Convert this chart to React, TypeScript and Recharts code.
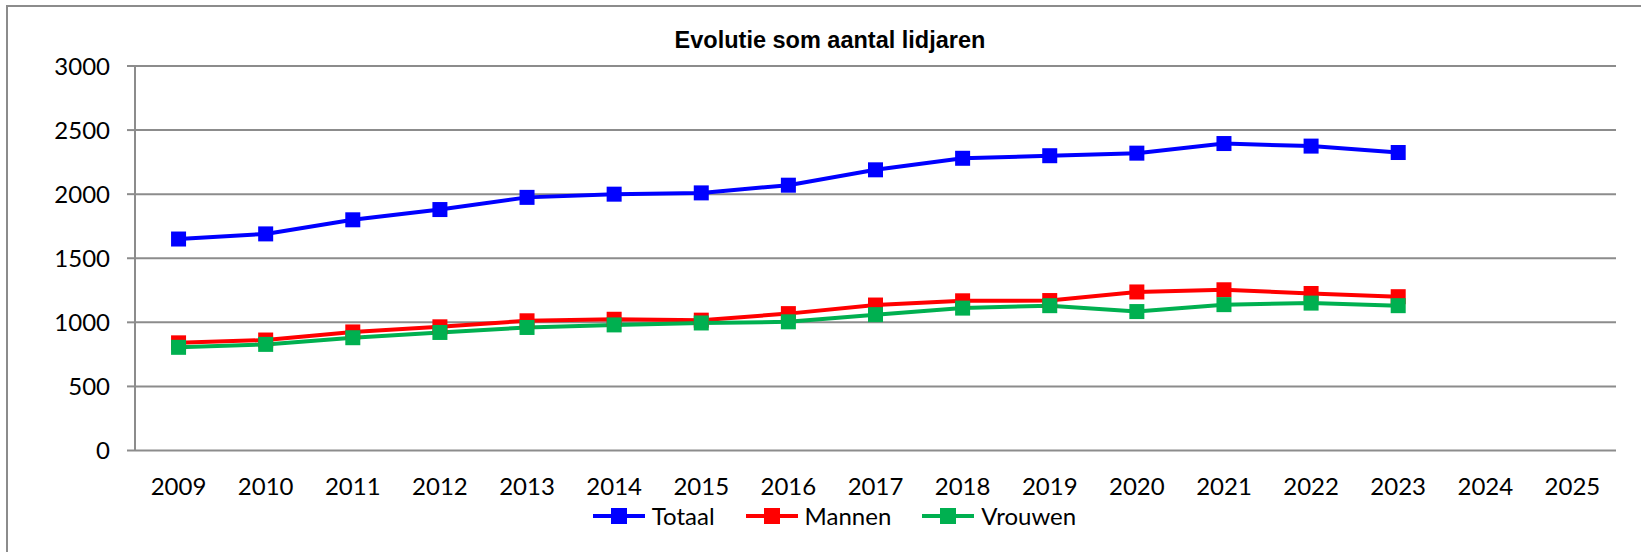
import React from 'react';
import { LineChart, Line, XAxis, YAxis, CartesianGrid, Legend } from 'recharts';

const years = ['2009', '2010', '2011', '2012', '2013', '2014', '2015', '2016', '2017', '2018', '2019', '2020', '2021', '2022', '2023', '2024', '2025'];
const totaal = [1650, 1690, 1800, 1880, 1975, 2000, 2010, 2070, 2190, 2280, 2300, 2320, 2395, 2375, 2325, null, null];
const mannen = [840, 862, 925, 965, 1012, 1024, 1017, 1068, 1135, 1168, 1170, 1237, 1254, 1225, 1200, null, null];
const vrouwen = [805, 828, 880, 921, 960, 980, 995, 1004, 1060, 1111, 1130, 1084, 1138, 1150, 1130, null, null];
const yTicks = [0, 500, 1000, 1500, 2000, 2500, 3000];
const title = 'Evolutie som aantal lidjaren';

const seriesDefs = [
  { key: 'Totaal', color: '#0000FF', values: totaal },
  { key: 'Mannen', color: '#FF0000', values: mannen },
  { key: 'Vrouwen', color: '#00B050', values: vrouwen },
];

const data = years.map((y, i) => {
  const row: any = { year: y };
  seriesDefs.forEach((s) => {
    row[s.key] = s.values[i];
  });
  return row;
});

const boundaryTicks = years.map((_, i) => i).concat([years.length]);

const GRID = '#8c8c8c';
const FONT = 'Lato, "Liberation Sans", sans-serif';
const FS = 24;

const makeDot = (color: string) => (props: any) => {
  const { cx, cy, index } = props;
  if (cx == null || cy == null || isNaN(cx) || isNaN(cy)) return <g key={`d-${index}`} />;
  const s = 15;
  return <rect key={`d-${index}`} x={cx - s / 2} y={cy - s / 2} width={s} height={s} fill={color} />;
};

const LegendContent = () => (
  <div
    style={{
      display: 'flex',
      justifyContent: 'center',
      alignItems: 'center',
      paddingLeft: 28,
      fontFamily: FONT,
      fontSize: FS,
      lineHeight: '28px',
      color: '#000',
    }}
  >
    {seriesDefs.map((s, i) => (
      <div key={s.key} style={{ display: 'flex', alignItems: 'center', marginLeft: i === 0 ? 0 : 31 }}>
        <svg width={52} height={16} style={{ display: 'block' }}>
          <line x1={0} y1={8} x2={52} y2={8} stroke={s.color} strokeWidth={4} strokeLinecap="round" />
          <rect x={18} y={0} width={16} height={16} fill={s.color} />
        </svg>
        <span style={{ marginLeft: 7 }}>{s.key}</span>
      </div>
    ))}
  </div>
);

export default function App() {
  return (
    <div style={{ position: 'fixed', left: 0, top: 0, width: 1641, height: 552, overflow: 'hidden', background: '#fff' }}>
      <div
        style={{
          position: 'absolute',
          left: 6,
          top: 5,
          width: 1660,
          height: 570,
          border: `2px solid ${GRID}`,
          boxSizing: 'border-box',
        }}
      />
      <div
        style={{
          position: 'absolute',
          left: 0,
          top: 28.7,
          width: 1641,
          paddingLeft: 19,
          boxSizing: 'border-box',
          textAlign: 'center',
          fontFamily: '"Liberation Sans", Arial, sans-serif',
          fontWeight: 'bold',
          fontSize: 23.5,
          lineHeight: '23.5px',
          color: '#000',
        }}
      >
        {title}
      </div>
      <div style={{ position: 'absolute', left: 0, top: 0 }}>
        <LineChart width={1641} height={552} data={data} margin={{ top: 66, right: 25, bottom: 0, left: 0 }}>
          <CartesianGrid xAxisId="cat" vertical={false} stroke={GRID} strokeWidth={2} />
          <XAxis
            xAxisId="tk"
            type="number"
            domain={[0, years.length]}
            ticks={boundaryTicks}
            allowDataOverflow
            tick={false}
            tickSize={8}
            height={0}
            axisLine={{ stroke: GRID, strokeWidth: 2 }}
            tickLine={{ stroke: GRID, strokeWidth: 2 }}
          />
          <XAxis
            xAxisId="cat"
            dataKey="year"
            scale="band"
            interval={0}
            height={101.5}
            tickSize={8}
            tickMargin={19}
            axisLine={false}
            tickLine={false}
            tick={{ fontFamily: FONT, fontSize: FS, fill: '#000' }}
          />
          <YAxis
            width={135}
            domain={[0, 3000]}
            ticks={yTicks}
            interval={0}
            tickSize={8}
            tickMargin={17}
            axisLine={{ stroke: GRID, strokeWidth: 2 }}
            tickLine={{ stroke: GRID, strokeWidth: 2 }}
            tick={{ fontFamily: FONT, fontSize: FS, fill: '#000' }}
          />
          <Legend
            layout="horizontal"
            align="center"
            verticalAlign="middle"
            content={<LegendContent />}
            wrapperStyle={{ left: 0, top: 502, width: 1641, height: 28 }}
          />
          {seriesDefs.map((s) => (
            <Line
              key={s.key}
              xAxisId="cat"
              type="linear"
              dataKey={s.key}
              stroke={s.color}
              strokeWidth={4}
              dot={makeDot(s.color)}
              activeDot={false}
              isAnimationActive={false}
              connectNulls={false}
            />
          ))}
        </LineChart>
      </div>
    </div>
  );
}
